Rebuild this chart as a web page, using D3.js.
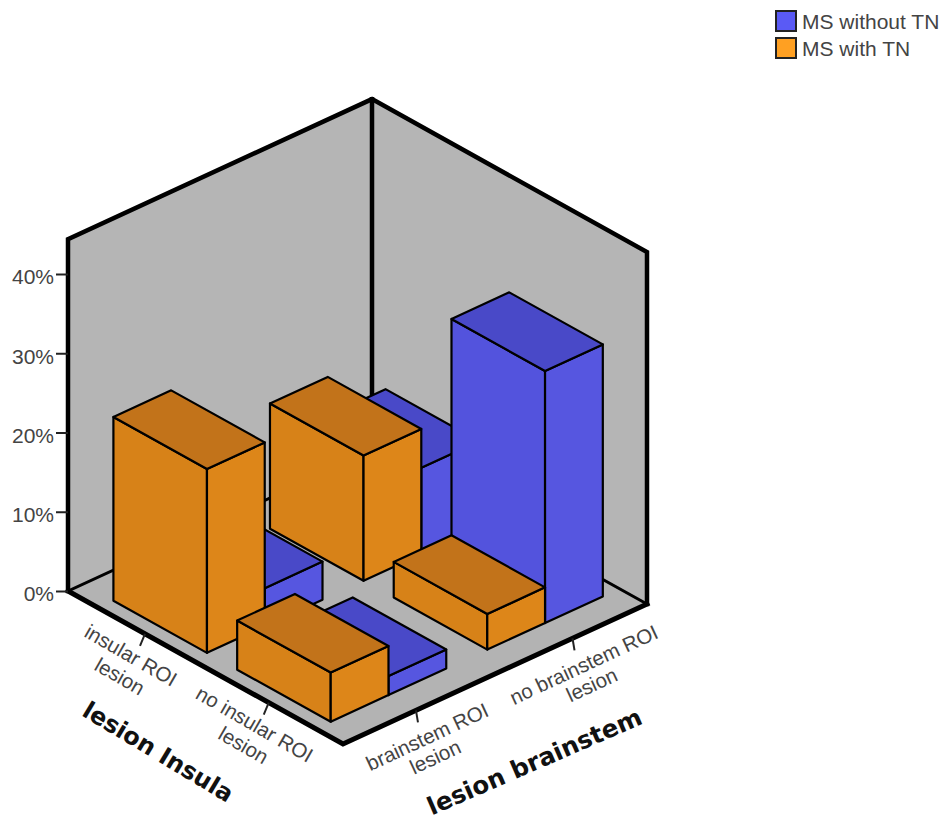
<!DOCTYPE html>
<html>
<head>
<meta charset="utf-8">
<script src="https://cdn.jsdelivr.net/npm/d3@7"></script>
<style>
  html, body { margin: 0; padding: 0; background: #fff; }
  text { font-family: "Liberation Sans", Arial, sans-serif; }
</style>
</head>
<body>
<svg id="chart" width="947" height="823"></svg>
<script>
// categories
const insulaCats = ["insular ROI lesion", "no insular ROI lesion"];
const brainstemCats = ["brainstem ROI lesion", "no brainstem ROI lesion"];
const seriesNames = ["MS with TN", "MS without TN"];
const valueTicks = [0, 10, 20, 30, 40];

// percentages, one row per insula category, one value per brainstem category
const withoutTN = [[4.8, 10.9], [2.4, 31.8]];
const withTN = [[23.2, 15.8], [6.2, 4.5]];

const seriesColors = {
    "MS without TN": { legend: "#5a5af5", left: "#5353dd", right: "#5656e0", top: "#4949c8" },
    "MS with TN": { legend: "#ffa022", left: "#d78218", right: "#dd8619", top: "#c2731a" }
};

const svg = d3.select("#chart");

// oblique projection: u runs along the insula edge, v along the brainstem edge
const originX = 68;
const uX = d3.scaleLinear().domain([0, 1]).range([0, 275]);
const uY = d3.scaleLinear().domain([0, 1]).range([0, 153]);
const vX = d3.scaleLinear().domain([0, 1]).range([0, 304]);
const vY = d3.scaleLinear().domain([0, 1]).range([0, -140]);
const valueY = d3.scaleLinear().domain([0, 40]).range([591, 274]);
const wallTop = 44.4;

function project(u, v, val) {
    return [originX + uX(u) + vX(v), valueY(val) + uY(u) + vY(v)];
}
function poly(points) {
    return d3.line()(points) + "Z";
}

const uBand = d3.scaleBand().domain(insulaCats).range([0.055, 0.955])
    .paddingInner(0.244).paddingOuter(0.122);
const vGroup = d3.scaleBand().domain(brainstemCats).range([-0.0175, 1.0125])
    .paddingInner(0.262).paddingOuter(0.131);
const vSeries = d3.scaleBand().domain(seriesNames).range([0, vGroup.bandwidth()]);

// walls and floor
const wallFill = "#b5b5b5";
svg.append("path").attr("fill", wallFill)
    .attr("d", poly([project(0, 0, 0), project(0, 0, wallTop), project(0, 1, wallTop), project(1, 1, wallTop), project(1, 1, 0), project(0, 1, 0)]));
svg.append("path").attr("fill", "#b3b3b3")
    .attr("d", poly([project(0, 0, 0), project(1, 0, 0), project(1, 1, 0), project(0, 1, 0)]));

const frame = svg.append("g").attr("fill", "none").attr("stroke", "#000")
    .attr("stroke-linejoin", "miter").attr("stroke-linecap", "square");
// back floor lines
frame.append("path").attr("stroke-width", 3)
    .attr("d", d3.line()([project(0, 0, 0), project(0, 1, 0), project(1, 1, 0)]));
// wall outline
frame.append("path").attr("stroke-width", 4.5)
    .attr("d", d3.line()([project(0, 0, 0), project(0, 0, wallTop), project(0, 1, wallTop), project(1, 1, wallTop), project(1, 1, 0)]));
frame.append("path").attr("stroke-width", 4.5)
    .attr("d", d3.line()([project(0, 1, 0), project(0, 1, wallTop)]));
// front floor edges
frame.append("path").attr("stroke-width", 5)
    .attr("d", d3.line()([project(0, 0, 0), project(1, 0, 0), project(1, 1, 0)]));

// bars, far ones first so the near ones paint over them
const bars = [];
insulaCats.forEach((ic, i) => {
    [1, 0].forEach(b => {
        bars.push({ ic, bc: brainstemCats[b], name: "MS without TN", value: withoutTN[i][b] });
        bars.push({ ic, bc: brainstemCats[b], name: "MS with TN", value: withTN[i][b] });
    });
});

const barG = svg.append("g").attr("stroke", "#000").attr("stroke-width", 2.2).attr("stroke-linejoin", "round");
bars.forEach(d => {
    const u0 = uBand(d.ic), u1 = u0 + uBand.bandwidth();
    const v0 = vGroup(d.bc) + vSeries(d.name), v1 = v0 + vSeries.bandwidth();
    const c = seriesColors[d.name];
    barG.append("path").attr("fill", c.left)
        .attr("d", poly([project(u0, v0, 0), project(u1, v0, 0), project(u1, v0, d.value), project(u0, v0, d.value)]));
    barG.append("path").attr("fill", c.right)
        .attr("d", poly([project(u1, v0, 0), project(u1, v1, 0), project(u1, v1, d.value), project(u1, v0, d.value)]));
    barG.append("path").attr("fill", c.top)
        .attr("d", poly([project(u0, v0, d.value), project(u1, v0, d.value), project(u1, v1, d.value), project(u0, v1, d.value)]));
});

// value axis
const axisG = svg.append("g").attr("transform", `translate(${originX},0)`)
    .call(d3.axisLeft(valueY).tickValues(valueTicks).tickSize(12).tickPadding(2).tickFormat(d => d + "%"));
axisG.select(".domain").remove();
axisG.selectAll("line").attr("stroke", "#222").attr("stroke-width", 2);
axisG.selectAll("text").attr("font-family", "Liberation Sans").attr("font-size", 21).attr("dy", "0.47em").attr("fill", "#444");

// category ticks and labels on the floor edges
const catColor = "#444";
function splitLabel(s) {
    const k = s.indexOf(" lesion");
    return [s.slice(0, k), s.slice(k + 1)];
}
insulaCats.forEach(cat => {
    const u = uBand(cat) + uBand.bandwidth() / 2;
    const p = project(u, 0, 0);
    svg.append("line").attr("x1", p[0]).attr("y1", p[1]).attr("x2", p[0] - 5).attr("y2", p[1] + 12)
        .attr("stroke", "#222").attr("stroke-width", 2);
    const lines = splitLabel(cat);
    [[lines[0], -15, 23], [lines[1], -26, 44]].forEach(l => {
        svg.append("text").attr("text-anchor", "middle").attr("dominant-baseline", "middle")
            .attr("transform", `translate(${p[0] + l[1]},${p[1] + l[2]}) rotate(30)`)
            .attr("font-size", 20.5).attr("fill", catColor).text(l[0]);
    });
});
brainstemCats.forEach(cat => {
    const v = vGroup(cat) + vGroup.bandwidth() / 2;
    const p = project(1, v, 0);
    svg.append("line").attr("x1", p[0]).attr("y1", p[1]).attr("x2", p[0] + 2).attr("y2", p[1] + 12)
        .attr("stroke", "#222").attr("stroke-width", 2);
    const lines = splitLabel(cat);
    [[lines[0], 12, 28], [lines[1], 20, 48]].forEach(l => {
        svg.append("text").attr("text-anchor", "middle").attr("dominant-baseline", "middle")
            .attr("transform", `translate(${p[0] + l[1]},${p[1] + l[2]}) rotate(-25)`)
            .attr("font-size", 20.5).attr("fill", catColor).text(l[0]);
    });
});

// axis titles
svg.append("text").attr("text-anchor", "middle").attr("dominant-baseline", "middle")
    .attr("transform", "translate(157.5,753) rotate(31)")
    .style("font-family", "DejaVu Sans").attr("font-weight", "bold").attr("font-size", 24).attr("fill", "#111")
    .text("lesion Insula");
svg.append("text").attr("text-anchor", "middle").attr("dominant-baseline", "middle")
    .attr("transform", "translate(535,763) rotate(-23.5)")
    .style("font-family", "DejaVu Sans").attr("font-weight", "bold").attr("font-size", 24.5).attr("fill", "#111")
    .text("lesion brainstem");

// legend
const legend = svg.append("g");
["MS without TN", "MS with TN"].forEach((name, i) => {
    const y = 11 + i * 27;
    legend.append("rect").attr("x", 776).attr("y", y).attr("width", 20).attr("height", 20)
        .attr("fill", seriesColors[name].legend).attr("stroke", "#222").attr("stroke-width", 2);
    legend.append("text").attr("x", 802).attr("y", y + 12.5).attr("dominant-baseline", "middle")
        .attr("font-size", 21).attr("fill", "#444").text(name);
});
</script>
</body>
</html>
